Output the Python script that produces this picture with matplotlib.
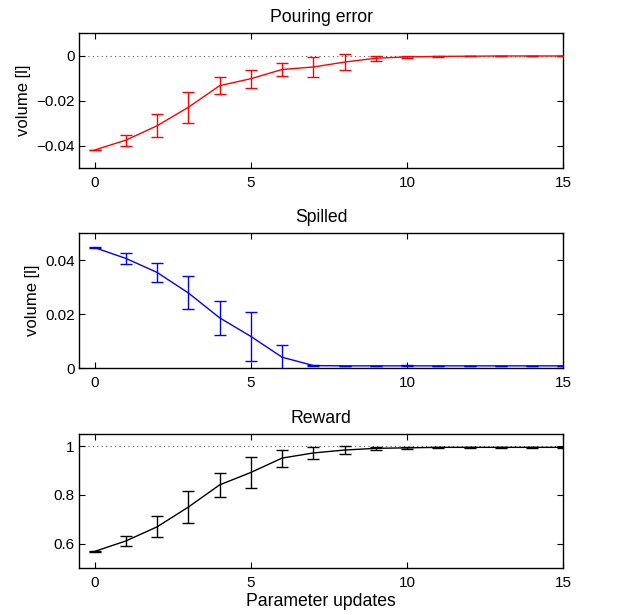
import matplotlib
matplotlib.use("Agg")
import matplotlib.pyplot as plt
import numpy as np

plt.rcParams['font.family'] = ['Liberation Sans', 'DejaVu Sans']
plt.rcParams['axes.unicode_minus'] = True

x = list(range(16))

pour_mean = [-0.0420, -0.0376, -0.0312, -0.0230, -0.0134, -0.0103, -0.0062, -0.0051,
             -0.0029, -0.0012, -0.0006, -0.0004, -0.0003, -0.0002, -0.0002, -0.0002]
pour_err = [0.0002, 0.0024, 0.0050, 0.0070, 0.0037, 0.0040, 0.0030, 0.0046,
            0.0037, 0.0012, 0.0005, 0.0002, 0.0001, 0.0001, 0.0001, 0.0001]

spill_mean = [0.0446, 0.0406, 0.0354, 0.0278, 0.0186, 0.0117, 0.0040, 0.0009,
              0.0008, 0.0008, 0.0008, 0.0008, 0.0008, 0.0008, 0.0008, 0.0008]
spill_err = [0.0002, 0.0020, 0.0036, 0.0061, 0.0064, 0.0092, 0.0045, 0.0001,
             0.0001, 0.0001, 0.0002, 0.0001, 0.0001, 0.0001, 0.0001, 0.0001]

reward_mean = [0.568, 0.611, 0.669, 0.750, 0.841, 0.892, 0.951, 0.972,
               0.984, 0.991, 0.993, 0.995, 0.995, 0.995, 0.995, 0.995]
reward_err = [0.002, 0.021, 0.043, 0.065, 0.050, 0.063, 0.035, 0.023,
              0.018, 0.005, 0.003, 0.001, 0.001, 0.001, 0.001, 0.001]

titles = ["Pouring error", "Spilled", "Reward"]
colors = ["#ff0000", "#0000ff", "#000000"]
ylims = [(-0.05, 0.01), (0.0, 0.05), (0.5, 1.05)]
yticks = [[-0.04, -0.02, 0], [0, 0.02, 0.04], [0.6, 0.8, 1]]
yticklabels = [["\u22120.04", "\u22120.02", "0"], ["0", "0.02", "0.04"], ["0.6", "0.8", "1"]]
ref_lines = [0.0, None, 1.0]
xticks = [0, 5, 10, 15]

fig = plt.figure(figsize=(6.29, 6.15), dpi=100)
positions = [
    [0.1256, 0.7268, 0.770, 0.2195],
    [0.1256, 0.4016, 0.770, 0.2195],
    [0.1256, 0.0764, 0.770, 0.2180],
]
data = [(pour_mean, pour_err), (spill_mean, spill_err), (reward_mean, reward_err)]

for i in range(3):
    ax = fig.add_axes(positions[i])
    m, e = data[i]
    if ref_lines[i] is not None:
        ax.axhline(ref_lines[i], color='#555555', linestyle=(0, (1, 3)), linewidth=0.8, zorder=1)
    ax.errorbar(x, m, yerr=e, color=colors[i], linewidth=1.0, elinewidth=1.0,
                capsize=4, capthick=1.0, zorder=3)
    ax.set_xlim(-0.5, 15)
    ax.set_ylim(*ylims[i])
    ax.set_xticks(xticks)
    ax.set_xticklabels([str(t) for t in xticks])
    ax.set_yticks(yticks[i])
    ax.set_yticklabels(yticklabels[i])
    ax.tick_params(direction='in', top=True, right=True, labelsize=11, length=4, width=0.8)
    ax.tick_params(axis='x', pad=6)
    ax.tick_params(axis='y', pad=3)
    for s in ax.spines.values():
        s.set_linewidth(1.0)
    ax.set_title(titles[i], fontsize=12.7, pad=8)
    if i < 2:
        ax.set_ylabel("volume [l]", fontsize=12)
    else:
        ax.set_xlabel("Parameter updates", fontsize=12.7, labelpad=2)

fig.savefig("out.png", dpi=100)
